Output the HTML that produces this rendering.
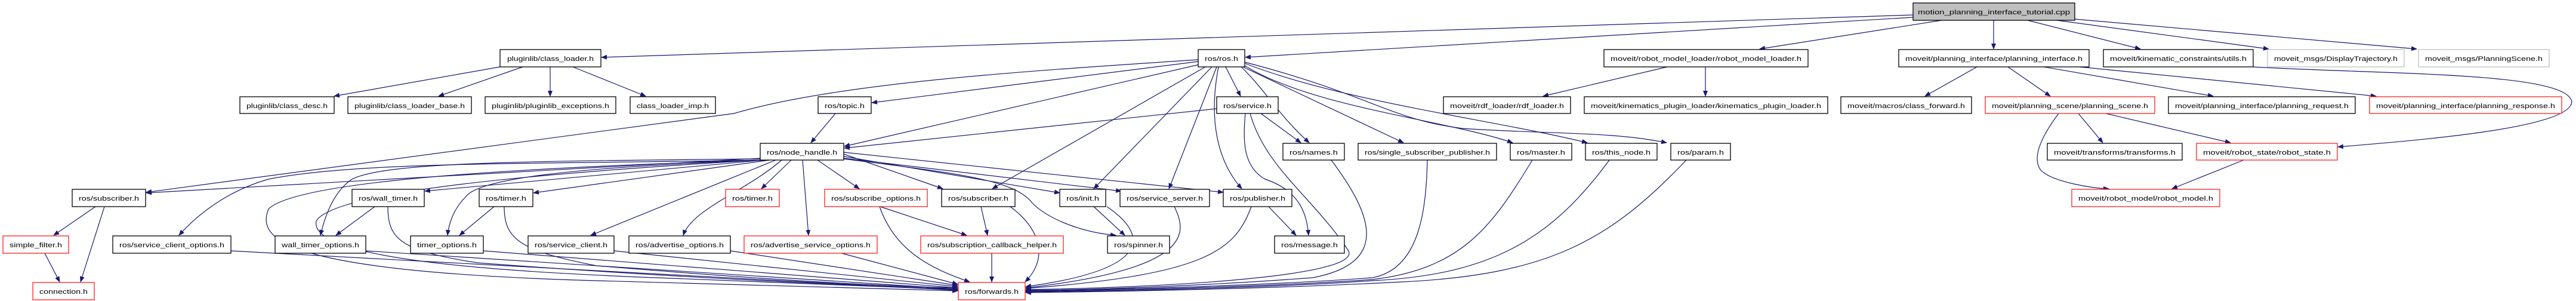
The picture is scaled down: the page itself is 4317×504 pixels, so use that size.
<!DOCTYPE html>
<html><head><meta charset="utf-8"><style>
html,body{margin:0;padding:0;background:#fff;}
svg{display:block;}
text{font-family:"Liberation Sans",sans-serif;font-size:11px;fill:#000;}
.b{fill:#fff;stroke:#000;stroke-width:1.3;}
.r{fill:#fff;stroke:#ff2020;stroke-width:1.3;}
.g{fill:#fff;stroke:#c0c0c0;stroke-width:1.3;}
.e{fill:none;stroke:#191970;stroke-width:1.2;}
</style></head><body>
<svg width="4317" height="504" viewBox="0 0 4317 504" xmlns="http://www.w3.org/2000/svg">
<defs><marker id="a" markerWidth="10" markerHeight="8" refX="9" refY="4" orient="auto" markerUnits="userSpaceOnUse"><path d="M0,0 L10,4 L0,8 z" fill="#191970"/></marker></defs>
<g class="e" marker-end="url(#a)">
<!-- cpp -->
<path d="M3206,25 L1008,96"/>
<path d="M3206,29 L2087,96"/>
<path d="M3254,34 L2949,82"/>
<path d="M3341,34 L3341,82"/>
<path d="M3398,34 L3587,82"/>
<path d="M3447,34 L3802,82"/>
<path d="M3477,32 L4050,82"/>
<path d="M3776,112 C4000,125 4300,120 4310,170 C4310,215 4050,235 3918,246"/>
<path d="M3313,112 L3226,161"/>
<path d="M3365,112 L3436,161"/>
<path d="M3425,112 L3709,161"/>
<path d="M3485,112 L3982,161"/>
<path d="M3483,190 L3524,239"/>
<path d="M3529,190 L3738,239"/>
<path d="M3450,190 C3420,230 3405,265 3420,285 C3440,305 3510,316 3534,316"/>
<path d="M3760,268 L3640,316"/>
<path d="M2794,112 L2586,161"/>
<path d="M2858,112 L2858,161"/>
<!-- pluginlib -->
<path d="M838,112 L560,161"/>
<path d="M876,112 L735,161"/>
<path d="M922,112 L922,161"/>
<path d="M960,112 L1082,161"/>
<!-- ros.h -->
<path d="M2008,103 L1461,172"/>
<path d="M2010,108 L1415,245"/>
<path d="M2008,100 C1700,120 1400,140 1230,190 L245,322"/>
<path d="M2020,112 L1663,316"/>
<path d="M2031,112 L1833,316"/>
<path d="M2039,112 L1959,316"/>
<path d="M2042,112 C2025,200 2040,270 2081,316"/>
<path d="M2054,112 L2079,161"/>
<path d="M2080,112 C2120,150 2140,190 2194,239"/>
<path d="M2083,112 L2352,239"/>
<path d="M2086,110 C2200,180 2420,200 2535,239"/>
<path d="M2086,106 C2250,170 2500,200 2660,239"/>
<path d="M2086,104 C2300,160 2330,200 2450,215 C2600,225 2700,220 2793,239"/>
<!-- topic/service -->
<path d="M1400,190 L1359,239"/>
<path d="M2039,182 L1415,248"/>
<path d="M2113,190 L2180,239"/>
<path d="M2087,190 C2082,240 2085,280 2120,300 C2180,320 2190,360 2193,394"/>
<path d="M2095,190 C2120,280 2200,330 2260,420 C2280,460 2000,480 1719,485"/>
<!-- node_handle -->
<path d="M1274,265 L245,323"/>
<path d="M1274,268 C900,275 600,270 450,300 C380,320 330,360 300,394"/>
<path d="M1280,268 L712,320"/>
<path d="M1274,266 C900,270 650,270 590,300 C560,320 545,360 537,394"/>
<path d="M1290,268 L894,323"/>
<path d="M1290,268 C950,280 800,300 780,330 C760,350 752,375 750,394"/>
<path d="M1300,268 L990,394"/>
<path d="M1310,268 C1250,320 1160,350 1145,394"/>
<path d="M1326,268 L1276,316"/>
<path d="M1345,268 L1355,394"/>
<path d="M1370,268 L1440,316"/>
<path d="M1414,258 L1580,316"/>
<path d="M1414,262 L1776,323"/>
<path d="M1414,265 L1879,320"/>
<path d="M1414,255 L2050,322"/>
<path d="M1414,266 C1600,290 1700,300 1730,340 C1760,370 1820,390 1870,394"/>
<path d="M1274,268 C900,280 500,300 450,350 C430,400 470,455 1000,470 C1300,478 1500,485 1605,487"/>
<path d="M1274,268 C900,290 560,320 530,370 C520,420 700,450 1100,465 C1400,476 1550,484 1605,485"/>
<!-- left subtree -->
<path d="M160,346 L90,394"/>
<path d="M175,346 L135,472"/>
<path d="M75,424 L100,472"/>
<path d="M628,346 L563,394"/>
<path d="M650,346 C650,400 670,420 800,440 C1200,470 1500,480 1605,484"/>
<path d="M828,346 L770,394"/>
<path d="M845,346 C845,400 870,420 1000,445 C1300,470 1500,480 1605,482"/>
<path d="M387,420 L1605,486"/>
<path d="M613,420 L1605,484"/>
<path d="M810,420 L1605,482"/>
<path d="M1029,420 L1605,480"/>
<path d="M1224,420 L1605,478"/>
<path d="M1410,424 L1605,476"/>
<!-- middle -->
<path d="M1475,346 L1620,394"/>
<path d="M1474,346 C1500,420 1560,450 1625,472"/>
<path d="M1644,346 L1655,394"/>
<path d="M1693,346 C1740,380 1760,430 1718,472"/>
<path d="M1662,424 L1662,472"/>
<path d="M1833,346 L1885,394"/>
<path d="M1855,346 C1920,390 1940,450 1719,480"/>
<path d="M1968,346 C1990,390 2000,450 1719,482"/>
<path d="M2126,346 L2172,394"/>
<path d="M2097,346 C2070,420 2020,460 1719,483"/>
<path d="M2231,268 C2300,360 2330,440 2200,465 C2000,480 1800,486 1719,486"/>
<path d="M2392,268 C2390,350 2380,450 2300,465 C2100,480 1800,486 1719,487"/>
<path d="M2568,268 C2500,380 2450,450 2300,468 C2100,482 1800,487 1719,488"/>
<path d="M2697,268 C2600,400 2500,460 2300,470 C2100,484 1800,488 1719,489"/>
<path d="M2826,268 C2700,400 2600,460 2350,472 C2100,485 1800,489 1719,490"/>
</g>
<g>
<rect x="3206" y="5" width="271" height="29" fill="#bfbfbf" stroke="#000" stroke-width="1.3"/><text x="3341.5" y="24" text-anchor="middle" textLength="255" lengthAdjust="spacingAndGlyphs">motion_planning_interface_tutorial.cpp</text>
</g>
<g id="boxes"></g>
<!-- row 83 -->
<rect class="b" x="838" y="83" width="169" height="29"/><text x="922.5" y="102" text-anchor="middle" textLength="145" lengthAdjust="spacingAndGlyphs">pluginlib/class_loader.h</text>
<rect class="b" x="2008" y="83" width="78" height="29"/><text x="2047" y="102" text-anchor="middle" textLength="56" lengthAdjust="spacingAndGlyphs">ros/ros.h</text>
<rect class="b" x="2688" y="83" width="342" height="29"/><text x="2859" y="102" text-anchor="middle" textLength="320" lengthAdjust="spacingAndGlyphs">moveit/robot_model_loader/robot_model_loader.h</text>
<rect class="b" x="3182" y="83" width="319" height="29"/><text x="3341.5" y="102" text-anchor="middle" textLength="297" lengthAdjust="spacingAndGlyphs">moveit/planning_interface/planning_interface.h</text>
<rect class="b" x="3525" y="83" width="251" height="29"/><text x="3650.5" y="102" text-anchor="middle" textLength="229" lengthAdjust="spacingAndGlyphs">moveit/kinematic_constraints/utils.h</text>
<rect class="g" x="3800" y="83" width="229" height="29"/><text x="3914.5" y="102" text-anchor="middle" textLength="207" lengthAdjust="spacingAndGlyphs">moveit_msgs/DisplayTrajectory.h</text>
<rect class="g" x="4053" y="83" width="219" height="29"/><text x="4162.5" y="102" text-anchor="middle" textLength="197" lengthAdjust="spacingAndGlyphs">moveit_msgs/PlanningScene.h</text>
<!-- row 162 -->
<rect class="b" x="402" y="162" width="158" height="28"/><text x="481" y="181" text-anchor="middle" textLength="136" lengthAdjust="spacingAndGlyphs">pluginlib/class_desc.h</text>
<rect class="b" x="583" y="162" width="207" height="28"/><text x="686.5" y="181" text-anchor="middle" textLength="185" lengthAdjust="spacingAndGlyphs">pluginlib/class_loader_base.h</text>
<rect class="b" x="813" y="162" width="219" height="28"/><text x="922.5" y="181" text-anchor="middle" textLength="197" lengthAdjust="spacingAndGlyphs">pluginlib/pluginlib_exceptions.h</text>
<rect class="b" x="1056" y="162" width="143" height="28"/><text x="1127.5" y="181" text-anchor="middle" textLength="121" lengthAdjust="spacingAndGlyphs">class_loader_imp.h</text>
<rect class="b" x="1371" y="162" width="89" height="28"/><text x="1415.5" y="181" text-anchor="middle" textLength="67" lengthAdjust="spacingAndGlyphs">ros/topic.h</text>
<rect class="b" x="2039" y="162" width="103" height="28"/><text x="2090.5" y="181" text-anchor="middle" textLength="81" lengthAdjust="spacingAndGlyphs">ros/service.h</text>
<rect class="b" x="2419" y="162" width="213" height="28"/><text x="2525.5" y="181" text-anchor="middle" textLength="191" lengthAdjust="spacingAndGlyphs">moveit/rdf_loader/rdf_loader.h</text>
<rect class="b" x="2655" y="162" width="408" height="28"/><text x="2859" y="181" text-anchor="middle" textLength="386" lengthAdjust="spacingAndGlyphs">moveit/kinematics_plugin_loader/kinematics_plugin_loader.h</text>
<rect class="b" x="3085" y="162" width="219" height="28"/><text x="3194.5" y="181" text-anchor="middle" textLength="197" lengthAdjust="spacingAndGlyphs">moveit/macros/class_forward.h</text>
<rect class="r" x="3327" y="162" width="284" height="28"/><text x="3469" y="181" text-anchor="middle" textLength="262" lengthAdjust="spacingAndGlyphs">moveit/planning_scene/planning_scene.h</text>
<rect class="b" x="3634" y="162" width="313" height="28"/><text x="3790.5" y="181" text-anchor="middle" textLength="291" lengthAdjust="spacingAndGlyphs">moveit/planning_interface/planning_request.h</text>
<rect class="r" x="3971" y="162" width="322" height="28"/><text x="4132" y="181" text-anchor="middle" textLength="300" lengthAdjust="spacingAndGlyphs">moveit/planning_interface/planning_response.h</text>
<!-- row 240 -->
<rect class="b" x="1274" y="240" width="140" height="28"/><text x="1344" y="259" text-anchor="middle" textLength="118" lengthAdjust="spacingAndGlyphs">ros/node_handle.h</text>
<rect class="b" x="2150" y="240" width="103" height="28"/><text x="2201.5" y="259" text-anchor="middle" textLength="81" lengthAdjust="spacingAndGlyphs">ros/names.h</text>
<rect class="b" x="2276" y="240" width="232" height="28"/><text x="2392" y="259" text-anchor="middle" textLength="210" lengthAdjust="spacingAndGlyphs">ros/single_subscriber_publisher.h</text>
<rect class="b" x="2531" y="240" width="103" height="28"/><text x="2582.5" y="259" text-anchor="middle" textLength="81" lengthAdjust="spacingAndGlyphs">ros/master.h</text>
<rect class="b" x="2657" y="240" width="120" height="28"/><text x="2717" y="259" text-anchor="middle" textLength="98" lengthAdjust="spacingAndGlyphs">ros/this_node.h</text>
<rect class="b" x="2800" y="240" width="100" height="28"/><text x="2850" y="259" text-anchor="middle" textLength="78" lengthAdjust="spacingAndGlyphs">ros/param.h</text>
<rect class="b" x="3431" y="240" width="226" height="28"/><text x="3544" y="259" text-anchor="middle" textLength="204" lengthAdjust="spacingAndGlyphs">moveit/transforms/transforms.h</text>
<rect class="r" x="3681" y="240" width="236" height="28"/><text x="3799" y="259" text-anchor="middle" textLength="214" lengthAdjust="spacingAndGlyphs">moveit/robot_state/robot_state.h</text>
<!-- row 317 -->
<rect class="b" x="121" y="317" width="123" height="29"/><text x="182.5" y="336" text-anchor="middle" textLength="101" lengthAdjust="spacingAndGlyphs">ros/subscriber.h</text>
<rect class="b" x="590" y="317" width="121" height="29"/><text x="650.5" y="336" text-anchor="middle" textLength="99" lengthAdjust="spacingAndGlyphs">ros/wall_timer.h</text>
<rect class="b" x="803" y="317" width="90" height="29"/><text x="848" y="336" text-anchor="middle" textLength="68" lengthAdjust="spacingAndGlyphs">ros/timer.h</text>
<rect class="r" x="1216" y="317" width="90" height="29"/><text x="1261" y="336" text-anchor="middle" textLength="68" lengthAdjust="spacingAndGlyphs">ros/timer.h</text>
<rect class="r" x="1382" y="317" width="172" height="29"/><text x="1468" y="336" text-anchor="middle" textLength="150" lengthAdjust="spacingAndGlyphs">ros/subscribe_options.h</text>
<rect class="b" x="1578" y="317" width="123" height="29"/><text x="1639.5" y="336" text-anchor="middle" textLength="101" lengthAdjust="spacingAndGlyphs">ros/subscriber.h</text>
<rect class="b" x="1776" y="317" width="77" height="29"/><text x="1814.5" y="336" text-anchor="middle" textLength="55" lengthAdjust="spacingAndGlyphs">ros/init.h</text>
<rect class="b" x="1877" y="317" width="150" height="29"/><text x="1952" y="336" text-anchor="middle" textLength="128" lengthAdjust="spacingAndGlyphs">ros/service_server.h</text>
<rect class="b" x="2050" y="317" width="115" height="29"/><text x="2107.5" y="336" text-anchor="middle" textLength="93" lengthAdjust="spacingAndGlyphs">ros/publisher.h</text>
<rect class="r" x="3472" y="317" width="248" height="29"/><text x="3596" y="336" text-anchor="middle" textLength="226" lengthAdjust="spacingAndGlyphs">moveit/robot_model/robot_model.h</text>
<!-- row 395 -->
<rect class="r" x="5" y="395" width="110" height="29"/><text x="60" y="414" text-anchor="middle" textLength="88" lengthAdjust="spacingAndGlyphs">simple_filter.h</text>
<rect class="b" x="189" y="395" width="198" height="29"/><text x="288" y="414" text-anchor="middle" textLength="176" lengthAdjust="spacingAndGlyphs">ros/service_client_options.h</text>
<rect class="b" x="461" y="395" width="152" height="29"/><text x="537" y="414" text-anchor="middle" textLength="130" lengthAdjust="spacingAndGlyphs">wall_timer_options.h</text>
<rect class="b" x="688" y="395" width="122" height="29"/><text x="749" y="414" text-anchor="middle" textLength="100" lengthAdjust="spacingAndGlyphs">timer_options.h</text>
<rect class="b" x="885" y="395" width="144" height="29"/><text x="957" y="414" text-anchor="middle" textLength="122" lengthAdjust="spacingAndGlyphs">ros/service_client.h</text>
<rect class="b" x="1054" y="395" width="170" height="29"/><text x="1139" y="414" text-anchor="middle" textLength="148" lengthAdjust="spacingAndGlyphs">ros/advertise_options.h</text>
<rect class="r" x="1247" y="395" width="223" height="29"/><text x="1358.5" y="414" text-anchor="middle" textLength="201" lengthAdjust="spacingAndGlyphs">ros/advertise_service_options.h</text>
<rect class="r" x="1543" y="395" width="239" height="29"/><text x="1662.5" y="414" text-anchor="middle" textLength="217" lengthAdjust="spacingAndGlyphs">ros/subscription_callback_helper.h</text>
<rect class="b" x="1856" y="395" width="104" height="29"/><text x="1908" y="414" text-anchor="middle" textLength="82" lengthAdjust="spacingAndGlyphs">ros/spinner.h</text>
<rect class="b" x="2136" y="395" width="117" height="29"/><text x="2194.5" y="414" text-anchor="middle" textLength="95" lengthAdjust="spacingAndGlyphs">ros/message.h</text>
<!-- row 473 -->
<rect class="r" x="55" y="473" width="103" height="29"/><text x="106.5" y="492" text-anchor="middle" textLength="81" lengthAdjust="spacingAndGlyphs">connection.h</text>
<rect class="r" x="1606" y="473" width="112" height="29"/><text x="1662" y="492" text-anchor="middle" textLength="90" lengthAdjust="spacingAndGlyphs">ros/forwards.h</text>
</svg>
</body></html>
